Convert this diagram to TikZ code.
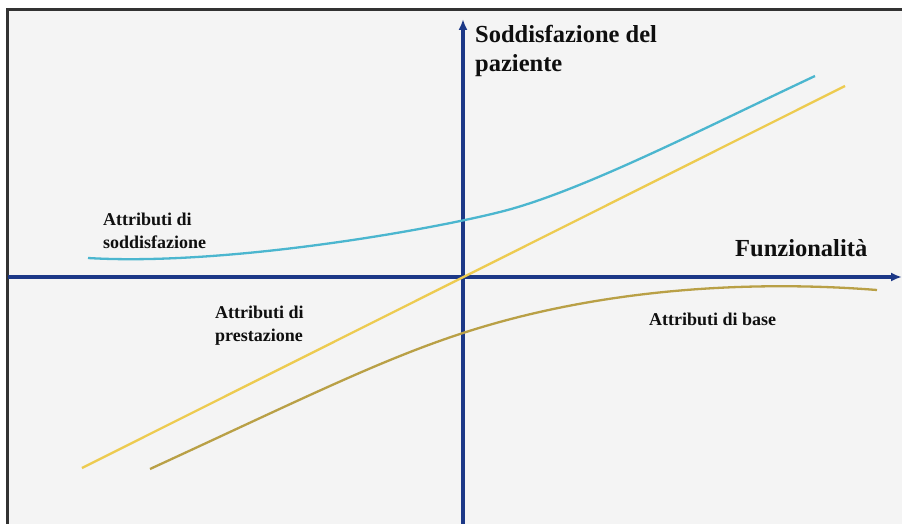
\documentclass[tikz,border=0pt]{standalone}
\usepackage{fontspec}
\setmainfont{Liberation Serif}
\usetikzlibrary{arrows.meta}
\definecolor{axisblue}{RGB}{28,56,135}
\definecolor{cyanline}{RGB}{75,182,207}
\definecolor{yelline}{RGB}{237,203,80}
\definecolor{oliveline}{RGB}{185,160,70}
\definecolor{bggray}{RGB}{244,244,244}
\definecolor{framegray}{RGB}{50,50,50}
\definecolor{txt}{RGB}{15,15,15}
\tikzset{
  axisline/.style={draw=axisblue, line width=3.4pt, -{Latex[length=11pt,width=9pt]}},
  curveline/.style={line width=2.3pt},
  bigtxt/.style={font=\bfseries\fontsize{24.5}{29}\selectfont, text=txt, inner sep=0pt, anchor=base west},
  smalltxt/.style={font=\bfseries\fontsize{18}{22}\selectfont, text=txt, inner sep=0pt, anchor=base west}
}
\begin{document}
\begin{tikzpicture}[x=1pt,y=-1pt]
\useasboundingbox (0,0) rectangle (902,524);
\fill[white] (0,0) rectangle (902,524);
\filldraw[fill=bggray, draw=framegray, line width=2.6pt] (7.5,9.5) rectangle (910,530);

% axes
\coordinate (ybot) at (463,524);
\coordinate (ytop) at (463,19);
\coordinate (xleft) at (8,277);
\coordinate (xright) at (902,277);
\draw[axisline] (xleft) -- (xright);
\draw[axisline] (ybot) -- (ytop);

% curves
\coordinate (c0) at (88,258);
\coordinate (c1) at (500,212);
\coordinate (c2) at (815,76);
\draw[curveline, cyanline] (c0) .. controls (220,266) and (420,232) .. (c1)
  .. controls (580,192) and (700,130) .. (c2);

\coordinate (y0) at (82,468);
\coordinate (y1) at (845,86);
\draw[curveline, yelline] (y0) -- (y1);

\coordinate (o0) at (150,469);
\coordinate (o1) at (463,333);
\coordinate (o2) at (877,290);
\draw[curveline, oliveline] (o0) .. controls (300,400) and (380,360) .. (o1)
  .. controls (600,288.5) and (750,280) .. (o2);

% labels
\node[bigtxt] (ylab1) at (475,43) {Soddisfazione del};
\node[bigtxt] (ylab2) at (475,72) {paziente};
\node[bigtxt] (xlab) at (735,256) {Funzionalità};
\node[smalltxt] (s1) at (103,225) {Attributi di};
\node[smalltxt] (s2) at (103,248) {soddisfazione};
\node[smalltxt] (p1) at (215,318) {Attributi di};
\node[smalltxt] (p2) at (215,341) {prestazione};
\node[smalltxt] (b1) at (649,325) {Attributi di base};
\end{tikzpicture}
\end{document}
